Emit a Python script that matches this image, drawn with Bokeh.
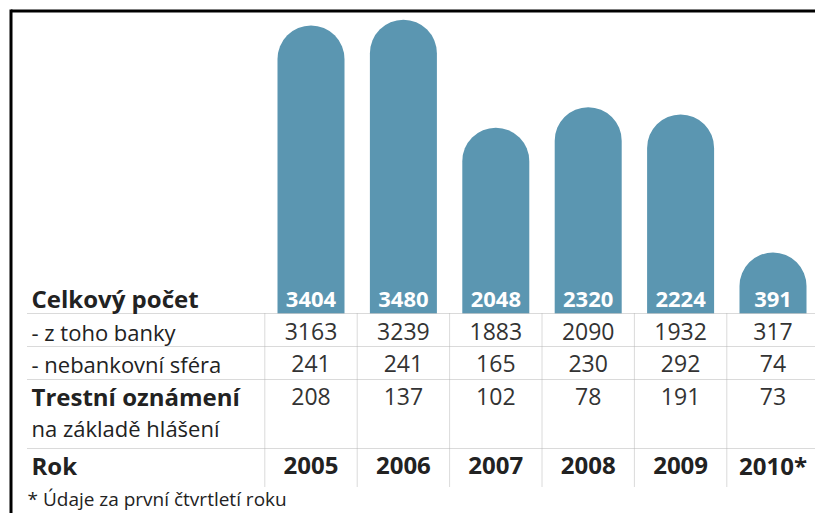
from bokeh.plotting import figure
from bokeh.models import Range1d, ColumnDataSource
from bokeh.core.properties import value
from bokeh.embed import file_html
from bokeh.resources import INLINE

# ---- data ----
years = ["2005", "2006", "2007", "2008", "2009", "2010*"]
total = [3404, 3480, 2048, 2320, 2224, 391]
banks = [3163, 3239, 1883, 2090, 1932, 317]
nonbank = [241, 241, 165, 230, 292, 74]
reports = [208, 137, 102, 78, 191, 73]

label_total = "Celkový počet"
label_banks = "- z toho banky"
label_nonbank = "- nebankovní sféra"
label_reports = "Trestní oznámení"
label_reports2 = "na základě hlášení"
label_year = "Rok"
footnote = "* Údaje za první čtvrtletí roku"

# ---- layout ----
W, H = 815, 513
COL_PX = 92.4
FIRST_COL_PX = 310.5
K = 13.27          # value units per pixel
ZERO_PX = 281.5    # pixel row of value 0
BAR_BOTTOM_PX = 313
FONT = value("Open Sans")
BAR_COLOR = "#5b96b1"
TXT = "#222222"

idx = list(range(len(years)))

p = figure(width=W, height=H,
           x_range=Range1d(-FIRST_COL_PX / COL_PX, (W - FIRST_COL_PX) / COL_PX),
           y_range=Range1d(-(H - ZERO_PX) * K, ZERO_PX * K),
           output_backend="svg", toolbar_location=None, min_border=0,
           x_axis_location=None, y_axis_location=None)
p.extra_x_ranges = {"px": Range1d(0, W)}
p.extra_y_ranges = {"px": Range1d(H, 0)}
p.outline_line_color = None
p.xgrid.visible = False
p.ygrid.visible = False
p.background_fill_color = "white"

# frame
p.segment(x0=[10.5, 10.5], y0=[10.5, 9], x1=[W, 10.5], y1=[10.5, H],
          line_color="black", line_width=3, x_range_name="px", y_range_name="px")

# bars
bar_bottom = (ZERO_PX - BAR_BOTTOM_PX) * K
src = ColumnDataSource(dict(x=idx, top=total, lab=[str(v) for v in total]))
p.vbar(x="x", top="top", bottom=bar_bottom, width=67 / COL_PX, source=src,
       fill_color=BAR_COLOR, line_color=None, border_radius=(34, 34, 0, 0))

# bar labels
p.text(x=idx, y=[299] * 6, text=[str(v) for v in total], y_range_name="px",
       text_align="center", text_baseline="middle", text_color="white",
       text_font=FONT, text_font_style="bold", text_font_size="22px")

# grid lines of table
hl = [313, 346, 379, 448]
p.segment(x0=[27] * len(hl), y0=hl, x1=[W] * len(hl), y1=hl,
          line_color="#b5b5b5", line_width=1, line_dash="1 1",
          x_range_name="px", y_range_name="px")
p.segment(x0=[i - 0.5 for i in idx], y0=[313] * 6, x1=[i - 0.5 for i in idx], y1=[487] * 6,
          line_color="#b5b5b5", line_width=1, line_dash="1 1", y_range_name="px")

# row labels
LX = 31
p.text(x=[LX, LX, LX], y=[298, 396, 465], text=[label_total, label_reports, label_year],
       x_range_name="px", y_range_name="px", text_baseline="middle", text_color=TXT,
       text_font=FONT, text_font_style="bold", text_font_size="24px")
p.text(x=[LX, LX, LX], y=[331, 363, 427], text=[label_banks, label_nonbank, label_reports2],
       x_range_name="px", y_range_name="px", text_baseline="middle", text_color=TXT,
       text_font=FONT, text_font_size="22px")
p.text(x=[27], y=[498], text=[footnote], x_range_name="px", y_range_name="px",
       text_baseline="middle", text_color=TXT, text_font=FONT, text_font_size="19px")

# table values
for vals, yy in [(banks, 331), (nonbank, 363), (reports, 396)]:
    p.text(x=idx, y=[yy] * 6, text=[str(v) for v in vals], y_range_name="px",
           text_align="center", text_baseline="middle", text_color="#333333",
           text_font=FONT, text_font_size="23px")
p.text(x=idx, y=[465] * 6, text=years, y_range_name="px",
       text_align="center", text_baseline="middle", text_color=TXT,
       text_font=FONT, text_font_style="bold", text_font_size="24px")

open("out.html", "w").write(file_html(p, INLINE))
